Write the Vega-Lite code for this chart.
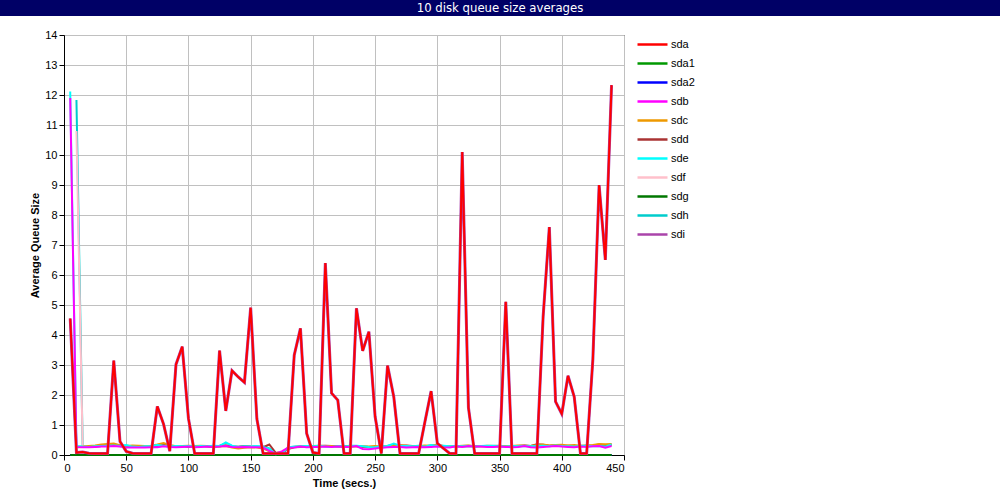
{
  "$schema": "https://vega.github.io/schema/vega-lite/v6.json",
  "padding": 0,
  "background": "white",
  "spacing": 12,
  "resolve": {"scale": {"color": "independent"}, "legend": {"color": "independent"}},
  "config": {
    "font": "Liberation Sans",
    "view": {"stroke": "black", "strokeWidth": 1},
    "axis": {
      "labelFont": "Liberation Sans", "labelFontSize": 11, "labelColor": "black",
      "titleFont": "Liberation Sans", "titleFontSize": 11, "titleFontWeight": "bold", "titleColor": "black",
      "domainColor": "black", "tickColor": "black", "tickSize": 5, "labelPadding": 2,
      "gridColor": "#c0c0c0", "gridWidth": 1, "gridOpacity": 1
    },
    "legend": {
      "symbolType": "M-2.5,0H2.5", "symbolSize": 144, "symbolStrokeWidth": 2.5,
      "labelFont": "Liberation Sans", "labelFontSize": 11, "labelColor": "black",
      "labelOffset": 11, "rowPadding": 6, "padding": 2, "offset": 19
    }
  },
  "vconcat": [
    {
      "width": 1000, "height": 16,
      "view": {"fill": "#000066", "stroke": null},
      "data": {"values": [{"label": "10 disk queue size averages"}]},
      "mark": {"type": "text", "color": "white", "font": "'Liberation Sans Narrow', 'DejaVu Sans Condensed', 'Roboto Condensed', 'Liberation Sans', sans-serif", "fontSize": 13},
      "encoding": {"text": {"field": "label", "type": "nominal"}}
    },
    {
      "spacing": 0,
      "resolve": {"scale": {"color": "independent"}, "legend": {"color": "independent"}},
      "hconcat": [
        {
          "width": 29, "height": 10,
          "view": {"stroke": null},
          "data": {"values": [{}]},
          "mark": {"type": "point", "opacity": 0}
        },
        {
          "width": 560, "height": 420,
          "data": {"values": [
{"t":5,"sda":4.55,"sda1":0,"sda2":0,"sdb":11.9,"sdc":null,"sdd":null,"sde":12.12,"sdf":null,"sdg":0,"sdh":null,"sdi":4.55},
{"t":10,"sda":0.08,"sda1":0,"sda2":0,"sdb":0.27,"sdc":0.27,"sdd":0.26,"sde":0.3,"sdf":10.8,"sdg":0,"sdh":11.83,"sdi":0.08},
{"t":15,"sda":0.1,"sda1":0,"sda2":0,"sdb":0.26,"sdc":0.28,"sdd":0.27,"sde":0.28,"sdf":0.28,"sdg":0,"sdh":0.29,"sdi":0.1},
{"t":20,"sda":0.06,"sda1":0,"sda2":0,"sdb":0.26,"sdc":0.3,"sdd":0.27,"sde":0.27,"sdf":0.29,"sdg":0,"sdh":0.28,"sdi":0.06},
{"t":25,"sda":0.05,"sda1":0,"sda2":0,"sdb":0.27,"sdc":0.32,"sdd":0.28,"sde":0.29,"sdf":0.28,"sdg":0,"sdh":0.29,"sdi":0.05},
{"t":30,"sda":0.05,"sda1":0,"sda2":0,"sdb":0.28,"sdc":0.35,"sdd":0.3,"sde":0.3,"sdf":0.3,"sdg":0,"sdh":0.3,"sdi":0.05},
{"t":35,"sda":0.05,"sda1":0,"sda2":0,"sdb":0.28,"sdc":0.37,"sdd":0.32,"sde":0.31,"sdf":0.31,"sdg":0,"sdh":0.3,"sdi":0.05},
{"t":40,"sda":3.15,"sda1":0,"sda2":0,"sdb":0.3,"sdc":0.38,"sdd":0.33,"sde":0.32,"sdf":0.3,"sdg":0,"sdh":0.31,"sdi":3.15},
{"t":45,"sda":0.45,"sda1":0,"sda2":0,"sdb":0.28,"sdc":0.33,"sdd":0.31,"sde":0.3,"sdf":0.29,"sdg":0,"sdh":0.3,"sdi":0.45},
{"t":50,"sda":0.12,"sda1":0,"sda2":0,"sdb":0.25,"sdc":0.3,"sdd":0.29,"sde":0.33,"sdf":0.3,"sdg":0,"sdh":0.31,"sdi":0.12},
{"t":55,"sda":0.06,"sda1":0,"sda2":0,"sdb":0.25,"sdc":0.32,"sdd":0.27,"sde":0.28,"sdf":0.29,"sdg":0,"sdh":0.29,"sdi":0.06},
{"t":60,"sda":0.05,"sda1":0,"sda2":0,"sdb":0.25,"sdc":0.31,"sdd":0.28,"sde":0.27,"sdf":0.28,"sdg":0,"sdh":0.28,"sdi":0.05},
{"t":65,"sda":0.05,"sda1":0,"sda2":0,"sdb":0.25,"sdc":0.3,"sdd":0.27,"sde":0.29,"sdf":0.3,"sdg":0,"sdh":0.29,"sdi":0.05},
{"t":70,"sda":0.05,"sda1":0,"sda2":0,"sdb":0.26,"sdc":0.31,"sdd":0.28,"sde":0.3,"sdf":0.29,"sdg":0,"sdh":0.3,"sdi":0.05},
{"t":75,"sda":1.62,"sda1":0,"sda2":0,"sdb":0.26,"sdc":0.35,"sdd":0.3,"sde":0.33,"sdf":0.3,"sdg":0,"sdh":0.31,"sdi":1.62},
{"t":80,"sda":1.03,"sda1":0,"sda2":0,"sdb":0.29,"sdc":0.4,"sdd":0.34,"sde":0.31,"sdf":0.32,"sdg":0,"sdh":0.3,"sdi":1.03},
{"t":85,"sda":0.13,"sda1":0,"sda2":0,"sdb":0.27,"sdc":0.33,"sdd":0.3,"sde":0.28,"sdf":0.3,"sdg":0,"sdh":0.29,"sdi":0.13},
{"t":90,"sda":3.02,"sda1":0,"sda2":0,"sdb":0.26,"sdc":0.29,"sdd":0.28,"sde":0.3,"sdf":0.29,"sdg":0,"sdh":0.3,"sdi":3.02},
{"t":95,"sda":3.61,"sda1":0,"sda2":0,"sdb":0.27,"sdc":0.3,"sdd":0.29,"sde":0.29,"sdf":0.3,"sdg":0,"sdh":0.3,"sdi":3.61},
{"t":100,"sda":1.22,"sda1":0,"sda2":0,"sdb":0.28,"sdc":0.31,"sdd":0.27,"sde":0.3,"sdf":0.29,"sdg":0,"sdh":0.29,"sdi":1.22},
{"t":105,"sda":0.05,"sda1":0,"sda2":0,"sdb":0.26,"sdc":0.3,"sdd":0.29,"sde":0.28,"sdf":0.3,"sdg":0,"sdh":0.3,"sdi":0.05},
{"t":110,"sda":0.05,"sda1":0,"sda2":0,"sdb":0.27,"sdc":0.31,"sdd":0.3,"sde":0.3,"sdf":0.28,"sdg":0,"sdh":0.29,"sdi":0.05},
{"t":115,"sda":0.05,"sda1":0,"sda2":0,"sdb":0.28,"sdc":0.3,"sdd":0.28,"sde":0.29,"sdf":0.29,"sdg":0,"sdh":0.3,"sdi":0.05},
{"t":120,"sda":0.05,"sda1":0,"sda2":0,"sdb":0.27,"sdc":0.29,"sdd":0.27,"sde":0.31,"sdf":0.3,"sdg":0,"sdh":0.3,"sdi":0.05},
{"t":125,"sda":3.48,"sda1":0,"sda2":0,"sdb":0.28,"sdc":0.28,"sdd":0.29,"sde":0.3,"sdf":0.29,"sdg":0,"sdh":0.31,"sdi":3.48},
{"t":130,"sda":1.47,"sda1":0,"sda2":0,"sdb":0.3,"sdc":0.3,"sdd":0.32,"sde":0.42,"sdf":0.33,"sdg":0,"sdh":0.38,"sdi":1.47},
{"t":135,"sda":2.81,"sda1":0,"sda2":0,"sdb":0.27,"sdc":0.25,"sdd":0.28,"sde":0.31,"sdf":0.3,"sdg":0,"sdh":0.3,"sdi":2.81},
{"t":140,"sda":2.6,"sda1":0,"sda2":0,"sdb":0.26,"sdc":0.22,"sdd":0.27,"sde":0.27,"sdf":0.28,"sdg":0,"sdh":0.28,"sdi":2.6},
{"t":145,"sda":2.42,"sda1":0,"sda2":0,"sdb":0.27,"sdc":0.24,"sdd":0.3,"sde":0.29,"sdf":0.29,"sdg":0,"sdh":0.3,"sdi":2.42},
{"t":150,"sda":4.91,"sda1":0,"sda2":0,"sdb":0.26,"sdc":0.26,"sdd":0.28,"sde":0.28,"sdf":0.3,"sdg":0,"sdh":0.29,"sdi":4.91},
{"t":155,"sda":1.2,"sda1":0,"sda2":0,"sdb":0.26,"sdc":0.25,"sdd":0.27,"sde":0.3,"sdf":0.29,"sdg":0,"sdh":0.3,"sdi":1.2},
{"t":160,"sda":0.05,"sda1":0,"sda2":0,"sdb":0.25,"sdc":0.22,"sdd":0.26,"sde":0.27,"sdf":0.27,"sdg":0,"sdh":0.28,"sdi":0.05},
{"t":165,"sda":0.05,"sda1":0,"sda2":0,"sdb":0.14,"sdc":0.12,"sdd":0.35,"sde":0.2,"sdf":0.18,"sdg":0,"sdh":0.22,"sdi":0.05},
{"t":170,"sda":0.05,"sda1":0,"sda2":0,"sdb":0.05,"sdc":0.06,"sdd":0.08,"sde":0.03,"sdf":0.05,"sdg":0,"sdh":0.06,"sdi":0.05},
{"t":175,"sda":0.05,"sda1":0,"sda2":0,"sdb":0.12,"sdc":0.1,"sdd":0.07,"sde":0.05,"sdf":0.08,"sdg":0,"sdh":0.04,"sdi":0.05},
{"t":180,"sda":0.05,"sda1":0,"sda2":0,"sdb":0.24,"sdc":0.22,"sdd":0.2,"sde":0.25,"sdf":0.24,"sdg":0,"sdh":0.23,"sdi":0.05},
{"t":185,"sda":3.33,"sda1":0,"sda2":0,"sdb":0.25,"sdc":0.27,"sdd":0.26,"sde":0.28,"sdf":0.28,"sdg":0,"sdh":0.27,"sdi":3.33},
{"t":190,"sda":4.22,"sda1":0,"sda2":0,"sdb":0.28,"sdc":0.3,"sdd":0.27,"sde":0.29,"sdf":0.29,"sdg":0,"sdh":0.28,"sdi":4.22},
{"t":195,"sda":0.72,"sda1":0,"sda2":0,"sdb":0.26,"sdc":0.29,"sdd":0.29,"sde":0.3,"sdf":0.3,"sdg":0,"sdh":0.3,"sdi":0.72},
{"t":200,"sda":0.08,"sda1":0,"sda2":0,"sdb":0.27,"sdc":0.28,"sdd":0.28,"sde":0.29,"sdf":0.3,"sdg":0,"sdh":0.3,"sdi":0.08},
{"t":205,"sda":0.05,"sda1":0,"sda2":0,"sdb":0.27,"sdc":0.31,"sdd":0.3,"sde":0.3,"sdf":0.29,"sdg":0,"sdh":0.31,"sdi":0.05},
{"t":210,"sda":6.4,"sda1":0,"sda2":0,"sdb":0.28,"sdc":0.3,"sdd":0.31,"sde":0.28,"sdf":0.3,"sdg":0,"sdh":0.29,"sdi":6.4},
{"t":215,"sda":2.06,"sda1":0,"sda2":0,"sdb":0.27,"sdc":0.3,"sdd":0.3,"sde":0.27,"sdf":0.29,"sdg":0,"sdh":0.28,"sdi":2.06},
{"t":220,"sda":1.83,"sda1":0,"sda2":0,"sdb":0.28,"sdc":0.28,"sdd":0.29,"sde":0.29,"sdf":0.3,"sdg":0,"sdh":0.3,"sdi":1.83},
{"t":225,"sda":0.05,"sda1":0,"sda2":0,"sdb":0.27,"sdc":0.27,"sdd":0.28,"sde":0.28,"sdf":0.28,"sdg":0,"sdh":0.29,"sdi":0.05},
{"t":230,"sda":0.05,"sda1":0,"sda2":0,"sdb":0.27,"sdc":0.29,"sdd":0.3,"sde":0.3,"sdf":0.29,"sdg":0,"sdh":0.31,"sdi":0.05},
{"t":235,"sda":4.89,"sda1":0,"sda2":0,"sdb":0.3,"sdc":0.3,"sdd":0.29,"sde":0.31,"sdf":0.3,"sdg":0,"sdh":0.3,"sdi":4.89},
{"t":240,"sda":3.47,"sda1":0,"sda2":0,"sdb":0.2,"sdc":0.29,"sdd":0.27,"sde":0.29,"sdf":0.28,"sdg":0,"sdh":0.28,"sdi":3.47},
{"t":245,"sda":4.11,"sda1":0,"sda2":0,"sdb":0.19,"sdc":0.28,"sdd":0.26,"sde":0.27,"sdf":0.27,"sdg":0,"sdh":0.27,"sdi":4.11},
{"t":250,"sda":1.28,"sda1":0,"sda2":0,"sdb":0.22,"sdc":0.3,"sdd":0.27,"sde":0.26,"sdf":0.28,"sdg":0,"sdh":0.27,"sdi":1.28},
{"t":255,"sda":0.05,"sda1":0,"sda2":0,"sdb":0.24,"sdc":0.27,"sdd":0.28,"sde":0.29,"sdf":0.29,"sdg":0,"sdh":0.3,"sdi":0.05},
{"t":260,"sda":2.98,"sda1":0,"sda2":0,"sdb":0.26,"sdc":0.3,"sdd":0.29,"sde":0.3,"sdf":0.3,"sdg":0,"sdh":0.31,"sdi":2.98},
{"t":265,"sda":1.94,"sda1":0,"sda2":0,"sdb":0.27,"sdc":0.31,"sdd":0.33,"sde":0.38,"sdf":0.32,"sdg":0,"sdh":0.34,"sdi":1.94},
{"t":270,"sda":0.05,"sda1":0,"sda2":0,"sdb":0.27,"sdc":0.33,"sdd":0.3,"sde":0.31,"sdf":0.31,"sdg":0,"sdh":0.32,"sdi":0.05},
{"t":275,"sda":0.05,"sda1":0,"sda2":0,"sdb":0.25,"sdc":0.31,"sdd":0.32,"sde":0.3,"sdf":0.3,"sdg":0,"sdh":0.3,"sdi":0.05},
{"t":280,"sda":0.05,"sda1":0,"sda2":0,"sdb":0.26,"sdc":0.29,"sdd":0.3,"sde":0.29,"sdf":0.29,"sdg":0,"sdh":0.29,"sdi":0.05},
{"t":285,"sda":0.05,"sda1":0,"sda2":0,"sdb":0.27,"sdc":0.3,"sdd":0.29,"sde":0.3,"sdf":0.3,"sdg":0,"sdh":0.31,"sdi":0.05},
{"t":290,"sda":1.1,"sda1":0,"sda2":0,"sdb":0.26,"sdc":0.32,"sdd":0.28,"sde":0.28,"sdf":0.29,"sdg":0,"sdh":0.29,"sdi":1.1},
{"t":295,"sda":2.13,"sda1":0,"sda2":0,"sdb":0.27,"sdc":0.31,"sdd":0.3,"sde":0.33,"sdf":0.31,"sdg":0,"sdh":0.32,"sdi":2.13},
{"t":300,"sda":0.39,"sda1":0,"sda2":0,"sdb":0.28,"sdc":0.35,"sdd":0.31,"sde":0.3,"sdf":0.3,"sdg":0,"sdh":0.31,"sdi":0.39},
{"t":305,"sda":0.22,"sda1":0,"sda2":0,"sdb":0.26,"sdc":0.3,"sdd":0.29,"sde":0.31,"sdf":0.29,"sdg":0,"sdh":0.3,"sdi":0.22},
{"t":310,"sda":0.05,"sda1":0,"sda2":0,"sdb":0.25,"sdc":0.3,"sdd":0.3,"sde":0.29,"sdf":0.3,"sdg":0,"sdh":0.29,"sdi":0.05},
{"t":315,"sda":0.05,"sda1":0,"sda2":0,"sdb":0.29,"sdc":0.29,"sdd":0.28,"sde":0.3,"sdf":0.29,"sdg":0,"sdh":0.3,"sdi":0.05},
{"t":320,"sda":10.1,"sda1":0,"sda2":0,"sdb":0.27,"sdc":0.31,"sdd":0.29,"sde":0.29,"sdf":0.3,"sdg":0,"sdh":0.3,"sdi":10.1},
{"t":325,"sda":1.58,"sda1":0,"sda2":0,"sdb":0.3,"sdc":0.32,"sdd":0.3,"sde":0.3,"sdf":0.29,"sdg":0,"sdh":0.31,"sdi":1.58},
{"t":330,"sda":0.05,"sda1":0,"sda2":0,"sdb":0.28,"sdc":0.3,"sdd":0.28,"sde":0.28,"sdf":0.3,"sdg":0,"sdh":0.29,"sdi":0.05},
{"t":335,"sda":0.05,"sda1":0,"sda2":0,"sdb":0.28,"sdc":0.29,"sdd":0.3,"sde":0.3,"sdf":0.29,"sdg":0,"sdh":0.3,"sdi":0.05},
{"t":340,"sda":0.05,"sda1":0,"sda2":0,"sdb":0.27,"sdc":0.31,"sdd":0.29,"sde":0.31,"sdf":0.3,"sdg":0,"sdh":0.3,"sdi":0.05},
{"t":345,"sda":0.05,"sda1":0,"sda2":0,"sdb":0.27,"sdc":0.3,"sdd":0.28,"sde":0.3,"sdf":0.29,"sdg":0,"sdh":0.31,"sdi":0.05},
{"t":350,"sda":0.05,"sda1":0,"sda2":0,"sdb":0.28,"sdc":0.31,"sdd":0.3,"sde":0.29,"sdf":0.3,"sdg":0,"sdh":0.3,"sdi":0.05},
{"t":355,"sda":5.11,"sda1":0,"sda2":0,"sdb":0.27,"sdc":0.29,"sdd":0.29,"sde":0.28,"sdf":0.29,"sdg":0,"sdh":0.29,"sdi":5.11},
{"t":360,"sda":0.05,"sda1":0,"sda2":0,"sdb":0.26,"sdc":0.3,"sdd":0.28,"sde":0.3,"sdf":0.3,"sdg":0,"sdh":0.3,"sdi":0.05},
{"t":365,"sda":0.05,"sda1":0,"sda2":0,"sdb":0.27,"sdc":0.32,"sdd":0.3,"sde":0.29,"sdf":0.31,"sdg":0,"sdh":0.3,"sdi":0.05},
{"t":370,"sda":0.05,"sda1":0,"sda2":0,"sdb":0.3,"sdc":0.31,"sdd":0.32,"sde":0.3,"sdf":0.3,"sdg":0,"sdh":0.31,"sdi":0.05},
{"t":375,"sda":0.05,"sda1":0,"sda2":0,"sdb":0.26,"sdc":0.3,"sdd":0.3,"sde":0.29,"sdf":0.29,"sdg":0,"sdh":0.3,"sdi":0.05},
{"t":380,"sda":0.05,"sda1":0,"sda2":0,"sdb":0.25,"sdc":0.33,"sdd":0.36,"sde":0.3,"sdf":0.32,"sdg":0,"sdh":0.31,"sdi":0.05},
{"t":385,"sda":4.6,"sda1":0,"sda2":0,"sdb":0.27,"sdc":0.35,"sdd":0.34,"sde":0.31,"sdf":0.33,"sdg":0,"sdh":0.32,"sdi":4.6},
{"t":390,"sda":7.6,"sda1":0,"sda2":0,"sdb":0.28,"sdc":0.32,"sdd":0.31,"sde":0.29,"sdf":0.3,"sdg":0,"sdh":0.3,"sdi":7.6},
{"t":395,"sda":1.78,"sda1":0,"sda2":0,"sdb":0.3,"sdc":0.33,"sdd":0.32,"sde":0.32,"sdf":0.31,"sdg":0,"sdh":0.33,"sdi":1.78},
{"t":400,"sda":1.37,"sda1":0,"sda2":0,"sdb":0.28,"sdc":0.34,"sdd":0.3,"sde":0.3,"sdf":0.3,"sdg":0,"sdh":0.31,"sdi":1.37},
{"t":405,"sda":2.64,"sda1":0,"sda2":0,"sdb":0.27,"sdc":0.32,"sdd":0.31,"sde":0.29,"sdf":0.31,"sdg":0,"sdh":0.3,"sdi":2.64},
{"t":410,"sda":1.94,"sda1":0,"sda2":0,"sdb":0.26,"sdc":0.33,"sdd":0.3,"sde":0.28,"sdf":0.3,"sdg":0,"sdh":0.29,"sdi":1.94},
{"t":415,"sda":0.05,"sda1":0,"sda2":0,"sdb":0.28,"sdc":0.31,"sdd":0.29,"sde":0.3,"sdf":0.29,"sdg":0,"sdh":0.31,"sdi":0.05},
{"t":420,"sda":0.05,"sda1":0,"sda2":0,"sdb":0.27,"sdc":0.32,"sdd":0.31,"sde":0.31,"sdf":0.3,"sdg":0,"sdh":0.3,"sdi":0.05},
{"t":425,"sda":3.2,"sda1":0,"sda2":0,"sdb":0.29,"sdc":0.33,"sdd":0.32,"sde":0.29,"sdf":0.31,"sdg":0,"sdh":0.3,"sdi":3.2},
{"t":430,"sda":9.0,"sda1":0,"sda2":0,"sdb":0.3,"sdc":0.37,"sdd":0.35,"sde":0.3,"sdf":0.33,"sdg":0,"sdh":0.31,"sdi":9.0},
{"t":435,"sda":6.5,"sda1":0,"sda2":0,"sdb":0.24,"sdc":0.36,"sdd":0.3,"sde":0.28,"sdf":0.3,"sdg":0,"sdh":0.3,"sdi":6.5},
{"t":440,"sda":12.33,"sda1":0,"sda2":0,"sdb":0.3,"sdc":0.37,"sdd":0.34,"sde":0.35,"sdf":0.32,"sdg":0,"sdh":0.36,"sdi":12.33}
          ]},
          "transform": [
            {"fold": ["sda1", "sda2", "sdg", "sdh", "sdf", "sdd", "sdc", "sde", "sdb", "sdi", "sda"], "as": ["disk", "q"]}
          ],
          "encoding": {
            "x": {
              "field": "t", "type": "quantitative",
              "scale": {"domain": [0, 450], "nice": false, "zero": false},
              "axis": {"title": "Time (secs.)", "values": [0, 50, 100, 150, 200, 250, 300, 350, 400, 450], "grid": true, "titlePadding": 4}
            },
            "y": {
              "field": "q", "type": "quantitative",
              "scale": {"domain": [0, 14], "nice": false},
              "axis": {"title": "Average Queue Size", "values": [0, 1, 2, 3, 4, 5, 6, 7, 8, 9, 10, 11, 12, 13, 14], "grid": true, "titlePadding": 4}
            },
            "color": {
              "field": "disk", "type": "nominal",
              "scale": {
                "domain": ["sda", "sda1", "sda2", "sdb", "sdc", "sdd", "sde", "sdf", "sdg", "sdh", "sdi"],
                "range": ["#ff0000", "#009900", "#0000ff", "#ff00ff", "#ee9900", "#aa3333", "#00ffff", "#ffc0cb", "#007700", "#00cccc", "#aa44aa"]
              },
              "legend": {"title": null, "orient": "right"}
            }
          },
          "layer": [
            {"transform": [{"filter": "datum.disk != 'sda' && datum.disk != 'sdi'"}], "mark": {"type": "line", "strokeWidth": 2}},
            {"transform": [{"filter": "datum.disk == 'sdi'"}], "mark": {"type": "line", "strokeWidth": 3}},
            {"transform": [{"filter": "datum.disk == 'sda'"}], "mark": {"type": "line", "strokeWidth": 2}}
          ]
        }
      ]
    }
  ]
}
